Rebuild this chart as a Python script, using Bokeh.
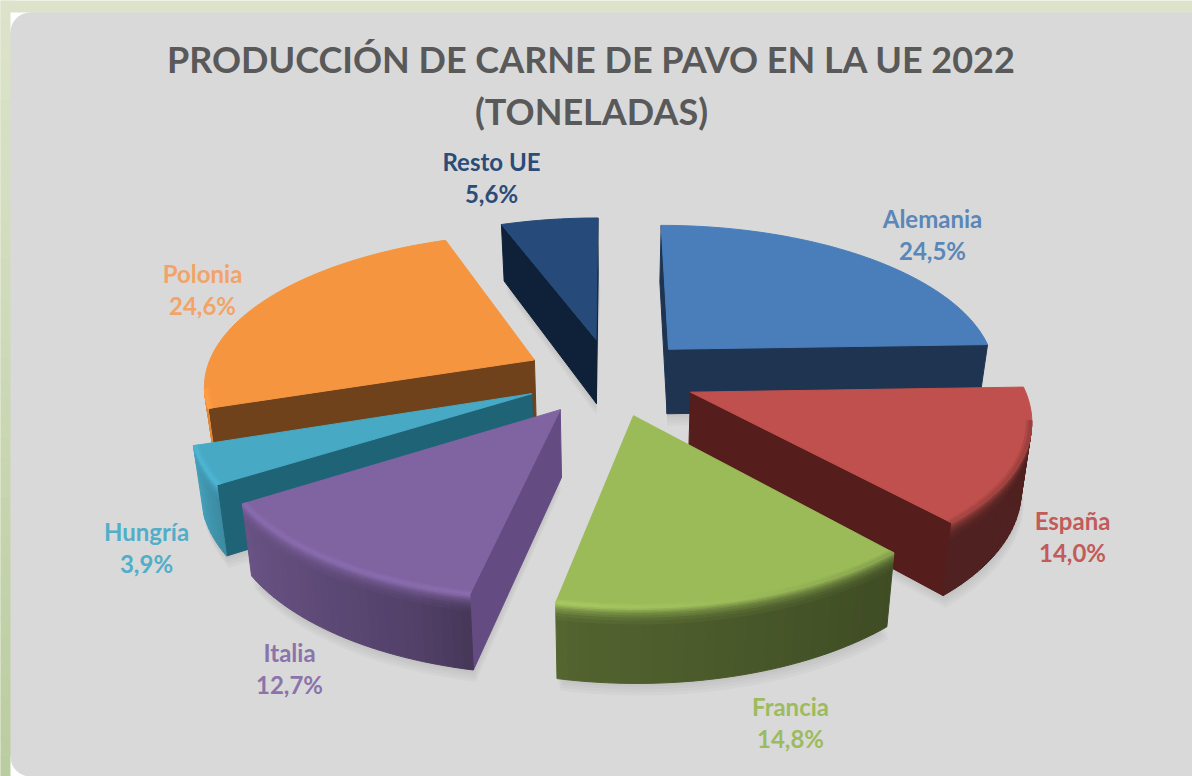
import numpy as np
from bokeh.plotting import figure
from bokeh.models import ColumnDataSource
from bokeh.core.properties import value
from bokeh.embed import file_html
from bokeh.resources import INLINE

# ---- data
countries = ["Alemania", "España", "Francia", "Italia", "Hungría", "Polonia", "Resto UE"]
shares = [24.5, 14.0, 14.8, 12.7, 3.9, 24.6, 5.6]
share_labels = ["24,5%", "14,0%", "14,8%", "12,7%", "3,9%", "24,6%", "5,6%"]
title_lines = ["PRODUCCIÓN DE CARNE DE PAVO EN LA UE 2022", "(TONELADAS)"]

# ---- styles
top_colors = ["#4a7ebb", "#c0504d", "#9bbb59", "#8064a2", "#48a9c5", "#f59540", "#264b7a"]
cut_colors = ["#1e3451", "#551d1b", "#3f4f22", "#644c82", "#1f6377", "#6f421c", "#0f2138"]
text_colors = ["#5b87b8", "#c25b59", "#9dbb5e", "#8a74aa", "#52aec8", "#f2a468", "#2b4c78"]
label_x = [932, 1072, 790, 289, 146, 202, 491]
label_y = [218, 520, 706, 652, 531, 273, 161]
line_gap = 32
draw_order = [6, 0, 5, 4, 1, 3, 2]

W, H = 1192, 776
CX, CY, RX, RY, PERSP = 610, 376, 330, 150, 0.15
EXPLODE = 0.26
DEPTH = 66


def hex2rgb(h):
    return np.array([int(h[i:i + 2], 16) for i in (1, 3, 5)], dtype=float)


def rgb2hex(c):
    c = np.clip(np.round(c), 0, 255).astype(int)
    return "#%02x%02x%02x" % tuple(c)


def project(u, v, frac=0.0):
    """Disc coordinates to screen, lowered by frac of the slice thickness."""
    s = 1 / (1 + PERSP * v)
    x = CX + RX * u * s
    y = CY - RY * v * s
    return x - 0.025 * (x - CX) * frac, y + DEPTH * (1 - 0.12 * v) * frac


def rim(theta, u0, v0, r=1.0, frac=0.0):
    t = np.radians(theta)
    return project(u0 + r * np.sin(t), v0 + r * np.cos(t), frac)


wall_gain = ([90, 140, 190, 200, 215, 237, 252, 275, 360],
             [0.41, 0.41, 0.53, 0.64, 0.72, 0.82, 0.95, 0.8, 0.8])
lip_gain = ([90, 140, 165, 190, 250, 275, 360], [0.72, 0.85, 1.0, 1.09, 1.08, 1.0, 1.0])

px, py, pc = [], [], []      # painted polygons, in order
sx, sy = [], []              # soft shadow polygons


def add(xs, ys, col):
    px.append(list(map(float, xs)))
    py.append(list(map(float, ys)))
    pc.append(col)


edges = np.cumsum([0] + shares) / sum(shares) * 360
for i in draw_order:
    a0, a1 = edges[i], edges[i + 1]
    mid = np.radians((a0 + a1) / 2)
    u0, v0 = EXPLODE * np.sin(mid), EXPLODE * np.cos(mid)
    ax, ay = project(u0, v0)
    abx, aby = project(u0, v0, 1.0)
    base = hex2rgb(top_colors[i])
    thetas = np.linspace(a0, a1, max(int((a1 - a0) / 1.5), 3) + 1)
    rx_, ry_ = rim(thetas, u0, v0)

    # shadow on the panel, under the lower outline
    bx, by = rim(thetas, u0, v0, frac=1.0)
    for off in (3, 6, 9, 12):
        sx.append([abx] + list(bx + off * 0.2))
        sy.append([aby + off] + list(by + off))

    # flat cut faces (only those that turn towards the viewer)
    mx, my = rim((a0 + a1) / 2, u0, v0, 0.7)
    for th in (a0, a1):
        ex, ey = rim(th, u0, v0)
        dx, dy = ex - ax, ey - ay
        inner = dx * (my - ay) - dy * (mx - ax)
        if inner * dx < -1e-6:
            e2x, e2y = rim(th, u0, v0, frac=1.0)
            add([ax, ex, e2x, abx], [ay, ey, e2y, aby], cut_colors[i])

    # curved wall, in strips so that it can shade
    fr = [0, 0.02, 0.04, 0.06, 0.08, 0.11, 0.14, 0.18, 0.23, 1.0]
    mixes = [0.0, 0.15, 0.3, 0.45, 0.6, 0.72, 0.85, 0.93, 1.0]
    for k in range(len(thetas) - 1):
        if rx_[k + 1] >= rx_[k]:
            continue
        th = (thetas[k] + thetas[k + 1]) / 2
        wall = base * np.interp(th, *wall_gain)
        hi = base * np.interp(th, *lip_gain)
        for j, m in enumerate(mixes):
            col = rgb2hex(hi * (1 - m) + wall * m)
            a = rim(thetas[k], u0, v0, frac=fr[j])
            b = rim(thetas[k + 1], u0, v0, frac=fr[j])
            c = rim(thetas[k + 1], u0, v0, frac=fr[j + 1])
            d = rim(thetas[k], u0, v0, frac=fr[j + 1])
            add([a[0], b[0], c[0], d[0]], [a[1], b[1], c[1], d[1]], col)

    # top face
    add([ax] + list(rx_), [ay] + list(ry_), rgb2hex(base))

    # lip: narrow band at the lower rim of the top face
    for k in range(len(thetas) - 1):
        if rx_[k + 1] >= rx_[k]:
            continue
        th = (thetas[k] + thetas[k + 1]) / 2
        hi = base * np.interp(th, *lip_gain)
        for r0, r1, m in ((0.985, 0.992, 0.4), (0.992, 1.0, 0.8)):
            col = rgb2hex(base * (1 - m) + hi * m)
            a = rim(thetas[k], u0, v0, r1)
            b = rim(thetas[k + 1], u0, v0, r1)
            c = rim(thetas[k + 1], u0, v0, r0)
            d = rim(thetas[k], u0, v0, r0)
            add([a[0], b[0], c[0], d[0]], [a[1], b[1], c[1], d[1]], col)

GREEN_TOP, GREEN_BOTTOM = hex2rgb("#dde3ca"), hex2rgb("#b9cc9f")
p = figure(width=W, height=H, x_range=(0, W), y_range=(H, 0), output_backend="svg",
           toolbar_location=None, min_border=0, outline_line_color=None,
           background_fill_color="#dde3ca", border_fill_color="#dde3ca")
p.axis.visible = False
p.grid.visible = False

# page backdrop: green strips, white corners, then the rounded grey panel
PANEL_L, PANEL_T, RAD = 10, 12, 20
ys = np.linspace(0, H, 40)
strip_colors = [rgb2hex(GREEN_TOP + (GREEN_BOTTOM - GREEN_TOP) * y / H) for y in ys[:-1]]
p.quad(left=-2, right=PANEL_L + 4, top=ys[:-1], bottom=ys[1:] + 1,
       fill_color=strip_colors, line_color=None)
p.quad(left=[PANEL_L, PANEL_L], right=[PANEL_L + RAD, PANEL_L + RAD],
       top=[PANEL_T, H - RAD], bottom=[PANEL_T + RAD, H + 2], fill_color="#ffffff", line_color=None)
an = np.radians(np.linspace(0, 90, 16))
outline_x = [PANEL_L + RAD - RAD * np.cos(t) for t in an] + [W + 2, W + 2] + [PANEL_L + RAD - RAD * np.sin(t) for t in an]
outline_y = [PANEL_T + RAD - RAD * np.sin(t) for t in an] + [PANEL_T, H + 2] + [H - RAD + RAD * np.cos(t) for t in an]
p.patch(outline_x, outline_y, fill_color="#d9d9d9", line_color=None)

p.patches(sx, sy, fill_color="#000000", fill_alpha=0.022, line_color=None)
src = ColumnDataSource(dict(xs=px, ys=py, c=pc))
p.patches("xs", "ys", source=src, fill_color="c", line_color="c", line_width=1)

# title and labels
p.text([591, 591], [58, 110], text=title_lines, text_font=value("Lato"), text_font_style="bold",
       text_font_size="36px", text_color="#595959", text_align="center", text_baseline="middle")
p.text(label_x, label_y, text=countries, text_font=value("Lato"), text_font_style="bold",
       text_font_size="24px", text_color=text_colors, text_align="center", text_baseline="middle")
p.text(label_x, [y + line_gap for y in label_y], text=share_labels, text_font=value("Lato"),
       text_font_style="bold", text_font_size="24px", text_color=text_colors,
       text_align="center", text_baseline="middle")

html = file_html(p, INLINE)
html = html.replace("<head>", "<head><style>html,body{margin:0!important;padding:0;overflow:hidden}</style>", 1)
open("out.html", "w").write(html)
